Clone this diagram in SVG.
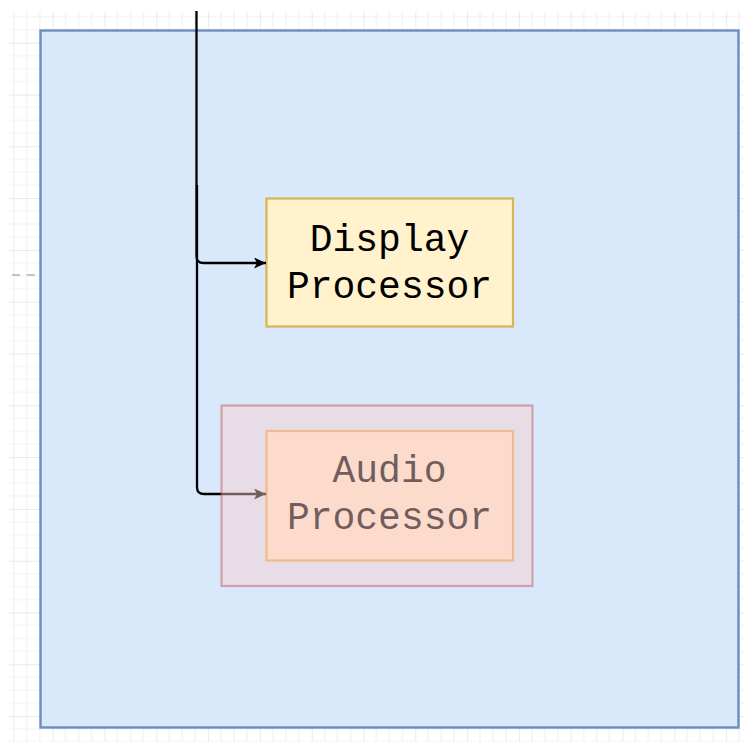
<svg xmlns="http://www.w3.org/2000/svg" width="744" height="742" viewBox="0 0 744 742">
  <style>
    .label { font-family: "Liberation Mono", "Courier New", monospace; font-size: 38px; fill: #000000; text-anchor: middle; }
    .edge { fill: none; stroke: #000000; stroke-width: 2.3; }
  </style>
  <defs>
    <pattern id="grid" patternUnits="userSpaceOnUse" x="0.9" y="-9.1" width="51.8" height="51.8">
      <path d="M12.95 0V51.8M25.9 0V51.8M38.85 0V51.8M0 12.95H51.8M0 25.9H51.8M0 38.85H51.8" stroke="#f1f1f1" stroke-width="1.2" fill="none"/>
      <path d="M0 0V51.8M0 0H51.8" stroke="#e2e2e2" stroke-width="1.4" fill="none"/>
    </pattern>
    <marker id="arrow" viewBox="0 0 12 11" refX="12" refY="5.5" markerWidth="12" markerHeight="11" markerUnits="userSpaceOnUse" orient="auto">
      <path d="M0 0L12 5.5L0 11L3 5.5Z" fill="#000000"/>
    </marker>
  </defs>

  <rect width="744" height="742" fill="#ffffff"/>
  <rect x="9" y="11" width="735" height="731" fill="url(#grid)"/>
  <line x1="12" y1="275" x2="36" y2="275" stroke="#b0b0b0" stroke-width="1.5" stroke-dasharray="8 7"/>

  <g id="system">
    <rect x="40.5" y="30.5" width="698" height="697" fill="#dae8fc" stroke="#6c8ebf" stroke-width="2.4"/>
  </g>

  <g id="display-processor">
    <rect x="266.5" y="198.5" width="246.5" height="128" fill="#fff2cc" stroke="#d6b656" stroke-width="2.2"/>
    <text class="label" x="389.5" y="251">Display</text>
    <text class="label" x="389.5" y="298">Processor</text>
  </g>

  <g id="audio-processor">
    <rect x="266.5" y="431" width="246.5" height="129.5" fill="#ffe6cc" stroke="#e6ad55" stroke-width="2.2"/>
    <text class="label" x="389.5" y="481.5">Audio</text>
    <text class="label" x="389.5" y="529">Processor</text>
  </g>

  <g id="connectors">
    <path class="edge" d="M196.5 11V256Q196.5 263 203.5 263H266" marker-end="url(#arrow)"/>
    <path class="edge" d="M197 185V487Q197 494 204 494H266" marker-end="url(#arrow)"/>
  </g>

  <g id="audio-overlay">
    <rect x="221.5" y="405.5" width="311" height="180.5" fill="#f8cecc" fill-opacity="0.45" stroke="#b85450" stroke-opacity="0.45" stroke-width="2.2"/>
  </g>
</svg>
